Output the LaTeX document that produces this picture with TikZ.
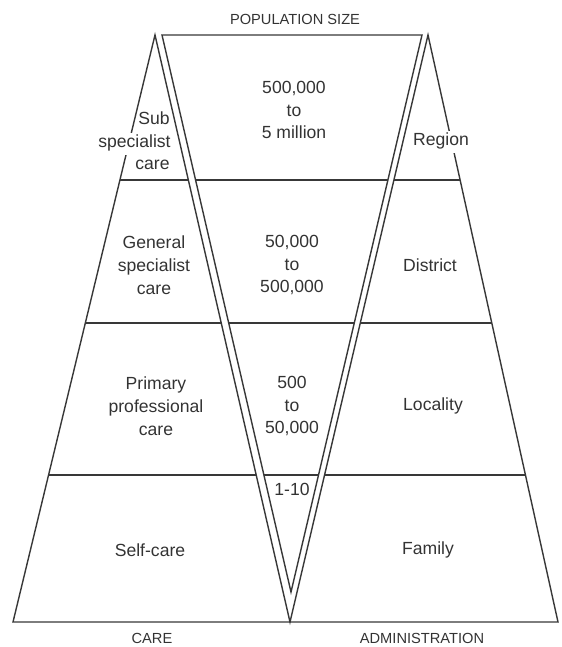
\documentclass[tikz,border=0pt]{standalone}
\usepackage{fontspec}
\setmainfont{Liberation Sans}
\usetikzlibrary{calc}
\begin{document}
\begin{tikzpicture}[x=0.03cm,y=-0.03cm,
  ln/.style={draw=black!78, line width=1.2pt, line join=miter},
  lbl/.style={text=black!80, font=\fontsize{15}{19.5}\selectfont, align=center, inner sep=1pt},
  capl/.style={text=black!80, font=\fontsize{12.5}{15}\selectfont, inner sep=1pt},
  gap/.style={fill=white, inner xsep=1pt, inner ysep=4pt},
  onel/.style={text height=1.6ex, text depth=0.45ex}]
\useasboundingbox (0,0) rectangle (561,647);
% corner points
\coordinate (AL) at (155,35);
\coordinate (BL) at (13,622);
\coordinate (BM) at (290,622);
\coordinate (TL) at (162,35);
\coordinate (TR) at (422,35);
\coordinate (VA) at (291,592);
\coordinate (AR) at (428,35);
\coordinate (BR) at (558,622);
% band boundaries
\coordinate (L1) at ($(AL)!0.2470!(BL)$);
\coordinate (R1) at ($(AR)!0.2470!(BR)$);
\coordinate (L2) at ($(AL)!0.4906!(BL)$);
\coordinate (R2) at ($(AR)!0.4906!(BR)$);
\coordinate (L3) at ($(AL)!0.7496!(BL)$);
\coordinate (R3) at ($(AR)!0.7496!(BR)$);
\draw[ln] (L1) -- (R1);
\draw[ln] (L2) -- (R2);
\draw[ln] (L3) -- (R3);
% white strips between double lines
\fill[white] (AL) -- (TL) -- (VA) -- (BM) -- cycle;
\fill[white] (TR) -- (AR) -- (BM) -- (VA) -- cycle;
% outlines
\draw[ln] (BL) -- (AL) -- (BM) -- (AR) -- (BR) -- cycle;
\draw[ln] (TL) -- (TR) -- (VA) -- cycle;
% texts
\node[capl] (pop) at (295,19) {POPULATION SIZE};
\node[capl] (care) at (152,638) {CARE};
\node[capl] (adm) at (422,638) {ADMINISTRATION};
\node[lbl] (p1) at (294,110) {500,000\\to\\5 million};
\node[lbl] (p2) at (292,265) {50,000\\to\\500,000};
\node[lbl] (p3) at (292,406) {500\\to\\50,000};
\node[lbl] (p4) at (292,489) {1-10};
\node[lbl,onel,anchor=east] (sub) at (171,121) {Sub};
\node[lbl,onel,gap,anchor=east] (spec) at (172,144) {specialist};
\node[lbl,onel,anchor=east] (subc) at (171,166) {care};
\node[lbl] (gen) at (154,265) {General\\specialist\\care};
\node[lbl] (prim) at (156,406) {Primary\\professional\\care};
\node[lbl] (self) at (150,550) {Self-care};
\node[lbl,onel,gap] (reg) at (441,142) {Region};
\node[lbl] (dist) at (430,265) {District};
\node[lbl] (loc) at (433,406) {Locality};
\node[lbl] (fam) at (428,550) {Family};
\end{tikzpicture}
\end{document}
